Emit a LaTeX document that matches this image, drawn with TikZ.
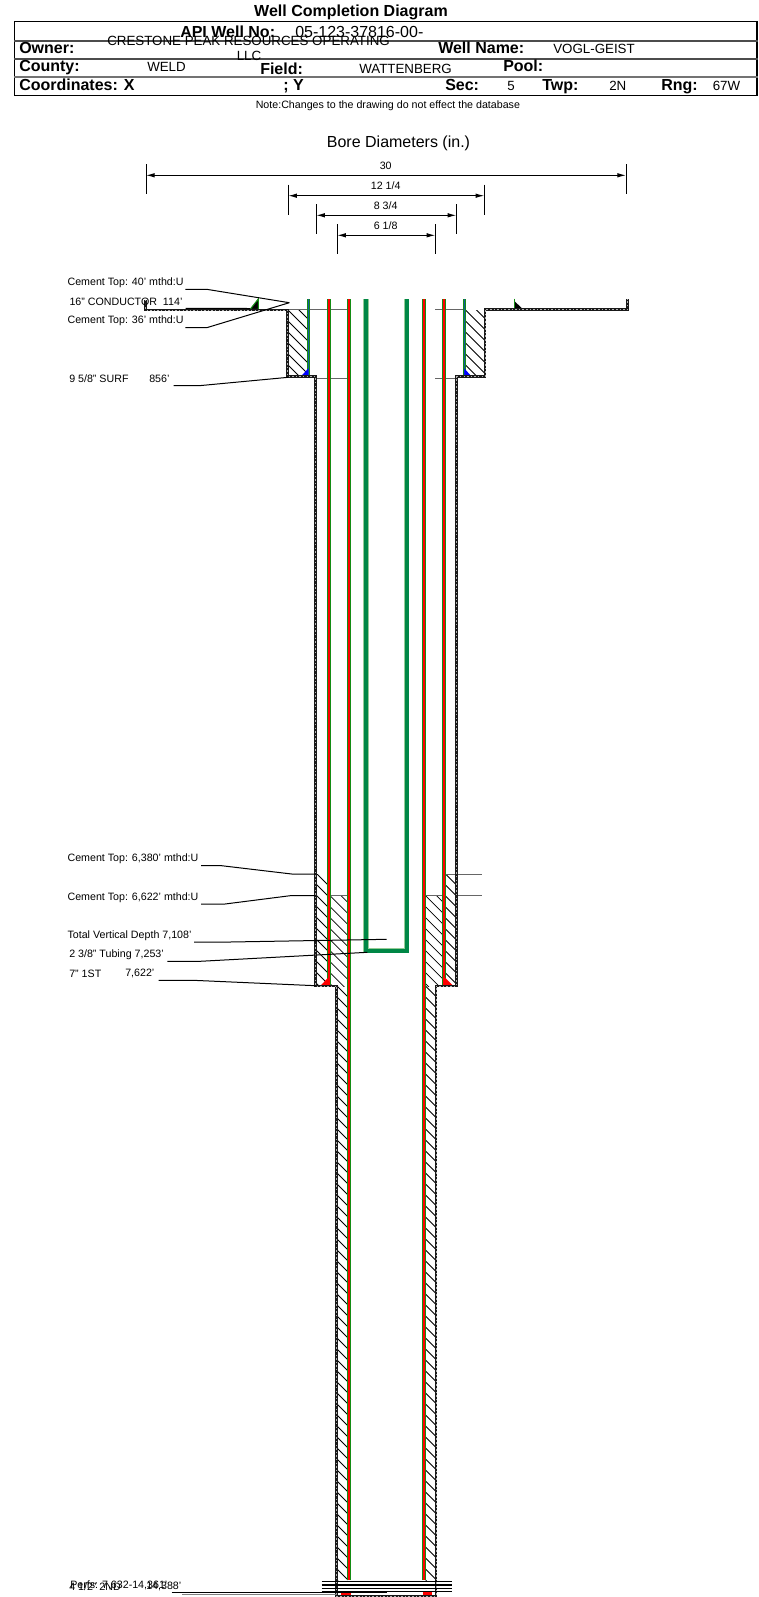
\documentclass[tikz,border=0pt]{standalone}
\usepackage{fontspec}
\setmainfont{Liberation Sans}
\usetikzlibrary{arrows.meta}
\definecolor{stringgreen}{RGB}{0, 135, 70}
\definecolor{edgegreen}{RGB}{20, 140, 20}
\definecolor{conductorblue}{RGB}{20, 90, 160}
% hatch between x1 and x2, from y1 to y2
\newcommand{\hatchbox}[4]{
    \begin{scope}
        \clip (#1,#3) rectangle (#2,#4);
        \foreach \k in {-121,-110,...,715}
            \draw[hatchline] (#1-20,#3+\k-20) -- ++(140,140);
    \end{scope}
}
\begin{document}
\begin{tikzpicture}[
    x=0.75pt, y=-0.75pt,
    label/.style={inner sep=0pt, font=\fontsize{8}{9.5}\selectfont},
    headbold/.style={inner sep=0pt, anchor=base west, font=\fontsize{12}{14}\selectfont\bfseries},
    headtext/.style={inner sep=0pt, anchor=base west, font=\fontsize{10}{12}\selectfont},
    leader/.style={line width=0.75pt, black},
    rule/.style={line width=0.9pt, black!70},
    dim/.style={{Latex[length=6.5pt,width=3.4pt]}-{Latex[length=6.5pt,width=3.4pt]}, line width=0.75pt},
    tick/.style={line width=0.75pt},
    hatchline/.style={line width=0.55pt, black},
    pipered/.style={line width=1.6pt, red},
    pipeedge/.style={line width=3pt, edgegreen},
    casingblack/.style={line width=2.2pt, black!90, line join=miter},
    casingdots/.style={line width=0.6pt, white!70!black, dash pattern=on 1.1pt off 1.6pt},
    guide/.style={line width=0.75pt, black!60}
]
    \useasboundingbox (0,0) rectangle (759,1597);
    \fill[white] (0,0) rectangle (759,1597);

    % Header
    \node[inner sep=0pt, font=\fontsize{12}{14}\selectfont\bfseries] (title) at (351,12) {Well Completion Diagram};
    \node[draw, line width=0.8pt, inner sep=0pt, minimum width=742.5*0.75pt, minimum height=74*0.75pt] (headbox) at (385.75,58.7) {};
    \draw[rule] (headbox.west |- 0,41) coordinate (r1a) -- (headbox.east |- 0,41) coordinate (r1b);
    \draw[rule] (headbox.west |- 0,59) coordinate (r2a) -- (headbox.east |- 0,59) coordinate (r2b);
    \draw[line width=1.5pt, black!55] (headbox.west |- 0,77) coordinate (r3a) -- (headbox.east |- 0,77) coordinate (r3b);
    \node[headbold] (apino) at (180,37.3) {API Well No:};
    \node[headtext, font=\fontsize{12}{14}\selectfont] (apival) at (295,37.3) {05-123-37816-00-};
    \node[headtext] (ownerval) at (107,45) {CRESTONE PEAK RESOURCES OPERATING};
    \node[headtext, anchor=base] (ownerllc) at (249,60) {LLC};
    \node[headbold] (owner) at (19,53.3) {Owner:};
    \node[headbold] (wellname) at (438,53.3) {Well Name:};
    \node[headtext] (wellval) at (553,53.3) {VOGL-GEIST};
    \node[headbold] (county) at (19,71) {County:};
    \node[headtext] (countyval) at (147,71.3) {WELD};
    \node[headbold] (field) at (260,74) {Field:};
    \node[headtext] (fieldval) at (359,73.3) {WATTENBERG};
    \node[headbold] (pool) at (503,71) {Pool:};
    \node[headbold] (coordx) at (19,90.7) {Coordinates: X};
    \node[headbold] (coordy) at (283,90.7) {; Y};
    \node[headbold] (sec) at (445,90.7) {Sec:};
    \node[headtext] (secval) at (507,90) {5};
    \node[headbold] (twp) at (542,90.7) {Twp:};
    \node[headtext] (twpval) at (609,90) {2N};
    \node[headbold] (rng) at (661,90.7) {Rng:};
    \node[headtext] (rngval) at (712.5,90) {67W};
    \node[label, anchor=west] (note) at (255.5,105.7) {Note:Changes to the drawing do not effect the database};

    % Bore diameters
    \node[inner sep=0pt, font=\fontsize{12}{14}\selectfont] (boretitle) at (398.5,143) {Bore Diameters (in.)};
    \foreach \name/\xa/\xb/\ya/\txt in {a/146/626/175.3/{30}, b/288.3/484.3/195.7/{12 1/4}, c/316.3/456.3/215.3/{8 3/4}, d/337.3/435.3/235.3/{6 1/8}} {
        \coordinate (\name l) at (\xa,\ya);
        \coordinate (\name r) at (\xb,\ya);
        \draw[tick] (\xa,\ya-11) -- (\xa,\ya+19);
        \draw[tick] (\xb,\ya-11) -- (\xb,\ya+19);
        \draw[dim] (\name l) -- (\name r);
        \node[label] (\name text) at (385.7,\ya-9.8) {\txt};
    }

    % Cement
    \hatchbox{288}{307.5}{310}{376.5}
    \hatchbox{465.5}{485}{310}{376.5}
    \hatchbox{317}{328}{874}{986}
    \hatchbox{445.5}{456}{874}{986}
    \hatchbox{330}{347.5}{895.7}{986}
    \hatchbox{425.5}{443}{895.7}{986}
    \hatchbox{337}{347.5}{986}{1580}
    \hatchbox{425.5}{436}{986}{1580}

    % Guide lines
    \draw[guide] (286,309.3) -- (347,309.3);
    \draw[guide] (435,309.3) -- (465,309.3);
    \draw[guide] (316.5,378) -- (347,378);
    \draw[guide] (435,378) -- (456.7,378);
    \draw[guide] (445.7,874) -- (482.3,874);
    \draw[guide] (457.7,895.7) -- (482.3,895.7);
    \draw[guide] (330,895.7) -- (347,895.7);
    \draw[guide] (425,895.7) -- (443,895.7);

    % Strings
    \foreach \px/\ybot in {329/985, 349/1580, 424/1580, 444/985} {
        \draw[pipeedge] (\px,299) -- (\px,\ybot);
        \draw[pipered] (\px,299) -- (\px,\ybot);
    }
    \draw[line width=2pt, edgegreen] (308.3,299) -- (308.3,376.7);
    \draw[line width=1.2pt, conductorblue] (308.3,299) -- (308.3,376.7);
    \draw[line width=2pt, edgegreen] (464.3,299) -- (464.3,376.7);
    \draw[line width=1.2pt, conductorblue] (464.3,299) -- (464.3,376.7);
    \draw[line width=3.9pt, edgegreen!45, line join=miter] (366,299) -- (366,950.7) -- (406.7,950.7) -- (406.7,299);
    \draw[line width=2.8pt, stringgreen, line join=miter] (366,299) -- (366,950.7) -- (406.7,950.7) -- (406.7,299);

    % Shoes
    \fill[black, draw=edgegreen, line width=0.8pt] (250,309.5) -- (258.3,299) -- (258.3,309.5) -- cycle;
    \fill[black] (514.3,301) -- (523.3,309.5) -- (514.3,309.5) -- cycle;
    \draw[line width=1.2pt, edgegreen] (514.3,298.5) -- (514.3,309);
    \fill[blue] (300.7,376.7) -- (308.3,368.3) -- (308.3,376.7) -- cycle;
    \fill[blue] (464.3,368.3) -- (471.7,376.7) -- (464.3,376.7) -- cycle;
    \fill[red] (320.7,985.5) -- (329,976.7) -- (330,985.5) -- cycle;
    \fill[red] (444,976.7) -- (453,985.5) -- (444,985.5) -- cycle;
    \fill[red] (340.7,1592) rectangle (350.7,1596);
    \fill[red] (422.7,1592) rectangle (431.7,1596);

    % Casing
    \coordinate (condtopl) at (145.7,300);
    \coordinate (condtopr) at (627.3,299);
    \foreach \style in {casingblack, casingdots} {
        \draw[\style] (condtopl) |- (287.7,310) -- (287.7,376.7) -- (315.7,376.7) -- (315.7,986) -- (336.7,986) -- (336.7,1596) -- (436,1596) -- (436,986) -- (456.7,986) -- (456.7,376.7) -- (485,376.7) -- (485,309.6) -- (627.3,309.6) -- (condtopr);
    }

    % Perforations
    \foreach \py in {1581.7,1585,1588.3,1591.7}
        \draw[line width=1.1pt, black] (321.7,\py) -- (451.7,\py);

    % Labels and leaders
    \node[label, anchor=west] (ctop40) at (67.3,282.7) {Cement Top: 40' mthd:U};
    \node[label, anchor=west] (cond) at (69.3,301.7) {16" CONDUCTOR\ \ 114'};
    \node[label, anchor=west] (ctop36) at (67.3,321) {Cement Top: 36' mthd:U};
    \node[label, anchor=west] (surf) at (69,379) {9 5/8" SURF};
    \node[label, anchor=west] (surfdepth) at (149,379) {856'};
    \node[label, anchor=west] (ctop6380) at (67.3,858.6) {Cement Top: 6,380' mthd:U};
    \node[label, anchor=west] (ctop6622) at (67.3,897.3) {Cement Top: 6,622' mthd:U};
    \node[label, anchor=west] (tvd) at (67.3,935.3) {Total Vertical Depth 7,108'};
    \node[label, anchor=west] (tubing) at (69,954.7) {2 3/8" Tubing 7,253'};
    \node[label, anchor=west] (first) at (69,973.7) {7" 1ST};
    \node[label, anchor=west] (firstdepth) at (125,973.7) {7,622'};
    \node[label, anchor=west] (perfs) at (70,1585) {Perfs: 7,632-14,361'};
    \node[label, anchor=west] (second) at (69,1586.7) {4 1/2" 2ND};
    \node[label, anchor=west] (seconddepth) at (146,1586.7) {14,388'};

    \coordinate (ctopend) at (289.3,302.7);
    \draw[leader] (ctop40.east) ++(1.5,6.6) -- (206.7,289.3) -- (ctopend);
    \draw[leader] (ctop36.east) ++(1.5,6.7) -- (206.7,327.7) -- (ctopend);
    \draw[leader] (cond.east) ++(3,6.6) -- (250,308.5);
    \draw[leader] (surfdepth.east) ++(4,6.7) -- (199,385.7) -- (288.3,377.3);
    \draw[leader] (ctop6380.east) ++(2.5,7) -- (221.7,865.7) -- (291.7,874) -- (315.7,874);
    \draw[leader] (ctop6622.east) ++(2.5,6.7) -- (225,904) -- (291.7,895.5) -- (315.7,895.7);
    \draw[leader] (tvd.east) ++(2.3,6.7) -- (230,942) -- (386.7,939.3);
    \draw[leader] (tubing.east) ++(3.3,6.6) -- (200,961.3) -- (367.3,952.3);
    \draw[leader] (firstdepth.east) ++(4,6.6) -- (193.3,980.3) -- (315.7,985.7);
    \draw[leader] (seconddepth.east) ++(-10,5.6) -- (386.7,1592.3);
    \draw[line width=1pt, black!50] (182,1594.7) -- (336.7,1594.7);
\end{tikzpicture}
\end{document}
